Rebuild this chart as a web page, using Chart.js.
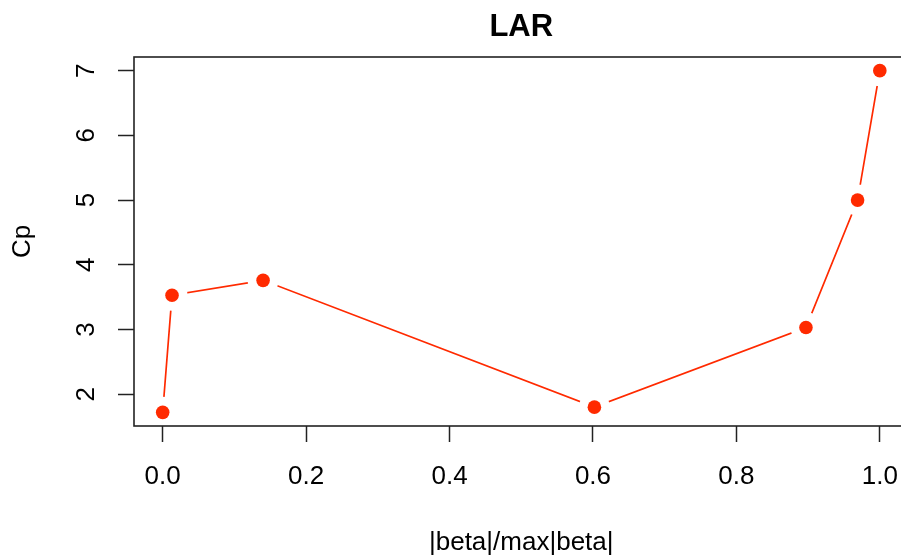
<!DOCTYPE html>
<html>
<head>
<meta charset="utf-8">
<script src="https://cdn.jsdelivr.net/npm/chart.js@4/dist/chart.umd.min.js"></script>
<style>
  html,body{margin:0;padding:0;background:#fff;overflow:hidden}
  #wrap{width:924px;height:557px}
</style>
</head>
<body>
<div id="wrap"><canvas id="c" width="924" height="557"></canvas></div>
<script>
// données
const fraction = [0.0, 0.013, 0.14, 0.602, 0.897, 0.969, 1.0];
const cp = [1.72, 3.53, 3.76, 1.80, 3.03, 5.00, 7.00];
const xTicks = [0.0, 0.2, 0.4, 0.6, 0.8, 1.0];
const yTicks = [2, 3, 4, 5, 6, 7];
const titleText = 'LAR';
const xLabel = '|beta|/max|beta|';
const yLabel = 'Cp';

const FONT = "'Liberation Sans', Arial, Helvetica, sans-serif";
const RED = '#FF2A00';
const INK = '#222';

const pts = fraction.map((x,i)=>({x:x,y:cp[i]}));

// cadre autour de la zone de tracé (dessiné après les points)
const boxPlugin = {
  id:'box',
  afterDatasetsDraw(chart){
    const a = chart.chartArea, ctx = chart.ctx;
    ctx.save();
    ctx.strokeStyle = INK; ctx.lineWidth = 1.6;
    ctx.strokeRect(a.left, a.top, a.right - a.left, a.bottom - a.top);
    ctx.restore();
  }
};

// étendue façon R : 4% de marge de chaque côté
function pad(arr){
  const lo = Math.min(...arr), hi = Math.max(...arr), d = (hi - lo) * 0.04;
  return [lo - d, hi + d];
}
const [xmin,xmax] = pad(fraction);
const [ymin,ymax] = pad(cp);

new Chart(document.getElementById('c'), {
  type:'line',
  data:{datasets:[
    {data:pts, borderColor:RED, borderWidth:1.7, pointRadius:0, fill:false, tension:0, order:3},
    {data:pts, showLine:false, pointRadius:15.5, pointBackgroundColor:'#fff', pointBorderWidth:0, order:2},
    {data:pts, showLine:false, pointRadius:6.8, pointBackgroundColor:RED, pointBorderWidth:0, order:1}
  ]},
  options:{
    responsive:false, animation:false, devicePixelRatio:1,
    layout:{padding:{top:0,left:0,right:2,bottom:0}},
    plugins:{
      legend:{display:false}, tooltip:{enabled:false},
      title:{display:true, text:titleText, fullSize:false, color:'#000',
        font:{family:FONT, size:31, weight:'bold'}, padding:{top:9,bottom:10.8}}
    },
    scales:{
      x:{type:'linear', min:xmin, max:xmax,
        afterBuildTicks:s=>{ s.ticks = xTicks.map(v=>({value:v})); },
        afterFit:s=>{ s.height = 131; s.paddingLeft = 0; s.paddingRight = 0; },
        grid:{drawOnChartArea:false, drawTicks:true, tickLength:16, tickWidth:1.5, tickColor:INK},
        border:{display:false},
        ticks:{color:'#000', font:{family:FONT, size:26}, padding:19, maxRotation:0,
          callback:v=>v.toFixed(1)},
        title:{display:true, text:xLabel, color:'#000', font:{family:FONT, size:26}, padding:{top:0,bottom:-1}}
      },
      y:{type:'linear', min:ymin, max:ymax,
        afterBuildTicks:s=>{ s.ticks = yTicks.map(v=>({value:v})); },
        afterFit:s=>{ s.width = 134; s.paddingTop = 0; s.paddingBottom = 0; },
        grid:{drawOnChartArea:false, drawTicks:true, tickLength:16, tickWidth:1.5, tickColor:INK},
        border:{display:false},
        ticks:{color:'#000', font:{family:FONT, size:26}, padding:24, minRotation:90, maxRotation:90,
          crossAlign:'center', callback:v=>String(v)},
        title:{display:true, text:yLabel, color:'#000', font:{family:FONT, size:26}, padding:{top:7,bottom:0}}
      }
    }
  },
  plugins:[boxPlugin]
});
</script>
</body>
</html>
